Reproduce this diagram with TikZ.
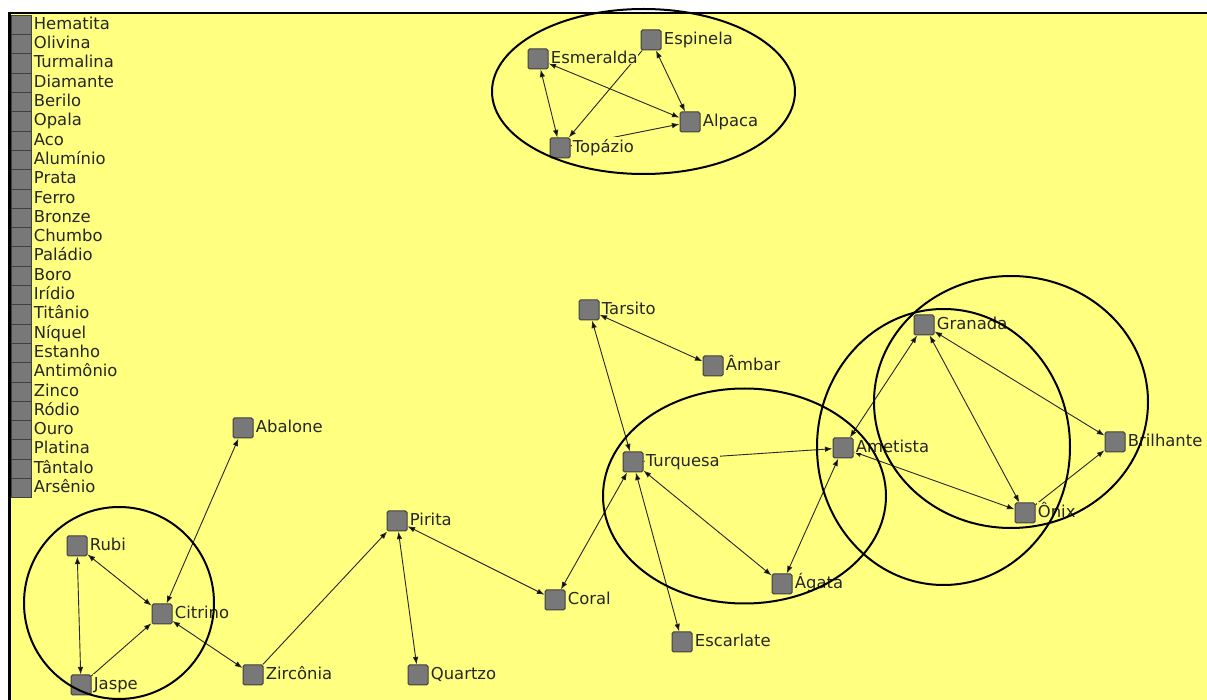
\documentclass[tikz,border=0pt]{standalone}
\usepackage{fontspec}
\setmainfont{DejaVu Sans}
\usetikzlibrary{arrows.meta}
\pgfdeclarelayer{bg}
\pgfdeclarelayer{edges}
\pgfsetlayers{bg,edges,main}
\definecolor{paper}{RGB}{255,255,128}
\definecolor{boxgray}{RGB}{120,120,120}
\tikzset{
  gem/.style={draw=black!75, fill=boxgray, rounded corners=0.8pt, minimum size=10pt, inner sep=0pt, line width=0.5pt},
  key/.style={draw=black!75, fill=boxgray, minimum width=10pt, minimum height=9.65pt, inner sep=0pt, line width=0.5pt},
  gemname/.style={fill=paper, inner sep=0.3pt, label distance=0.7pt, yshift=1.5pt, text height=0.74em, text depth=0pt, font=\fontsize{8.2}{10}\selectfont, text=black!85},
  ring/.style={draw, line width=1pt},
}

\begin{document}
\begin{tikzpicture}[x=0.5pt, y=-0.5pt, ->, >={Latex[length=3.8pt,width=2.8pt]}, link/.style={line width=0.45pt, draw=black!85}]
\useasboundingbox (0,0) rectangle (1207,700);
\begin{pgfonlayer}{bg}
\fill[white] (0,0) rectangle (1207,700);
\fill[paper] (9.5,13) rectangle (1207,700);
\draw[-, line width=1.2pt] (9.5,700) |- (1207,13);
\end{pgfonlayer}

\foreach \w [count=\i from 0] in {Hematita, Olivina, Turmalina, Diamante, Berilo, Opala, Aco, Alumínio, Prata, Ferro, Bronze, Chumbo, Paládio, Boro, Irídio, Titânio, Níquel, Estanho, Antimônio, Zinco, Ródio, Ouro, Platina, Tântalo, Arsênio}
  \node[key, label={[gemname]right:\w}] (k\i) at (21,{25+19.3*\i}) {};

\node[gem, label={[gemname]right:Esmeralda}] (esmeralda) at (538,59) {};
\node[gem, label={[gemname]right:Espinela}] (espinela) at (651,40) {};
\node[gem, label={[gemname]right:Alpaca}] (alpaca) at (690,122) {};
\node[gem, label={[gemname]right:Topázio}] (topazio) at (560,148) {};
\node[gem, label={[gemname]right:Tarsito}] (tarsito) at (589,310) {};
\node[gem, label={[gemname]right:Âmbar}] (ambar) at (713,366) {};
\node[gem, label={[gemname]right:Turquesa}] (turquesa) at (633,462) {};
\node[gem, label={[gemname]right:Ametista}] (ametista) at (843,448) {};
\node[gem, label={[gemname]right:Granada}] (granada) at (924,325) {};
\node[gem, label={[gemname]right:Brilhante}] (brilhante) at (1115,442) {};
\node[gem, label={[gemname]right:Ônix}] (onix) at (1025,513) {};
\node[gem, label={[gemname]right:Ágata}] (agata) at (782,584) {};
\node[gem, label={[gemname]right:Escarlate}] (escarlate) at (682,642) {};
\node[gem, label={[gemname]right:Coral}] (coral) at (555,600) {};
\node[gem, label={[gemname]right:Pirita}] (pirita) at (397,521) {};
\node[gem, label={[gemname]right:Quartzo}] (quartzo) at (418,675) {};
\node[gem, label={[gemname]right:Abalone}] (abalone) at (243,428) {};
\node[gem, label={[gemname]right:Citrino}] (citrino) at (162,614) {};
\node[gem, label={[gemname]right:Rubi}] (rubi) at (77,546) {};
\node[gem, label={[gemname]right:Jaspe}] (jaspe) at (81,685) {};
\node[gem, label={[gemname]right:Zircônia}] (zirconia) at (253,675) {};

\begin{pgfonlayer}{edges}
\path[link] (esmeralda) edge[<->] (topazio);
\path[link] (esmeralda) edge[<->] (alpaca);
\path[link] (espinela) edge[<->] (alpaca);
\path[link] (espinela) edge (topazio);
\path[link] (topazio) edge (alpaca);
\path[link] (tarsito) edge[<->] (ambar);
\path[link] (tarsito) edge[<->] (turquesa);
\path[link] (turquesa) edge (ametista);
\path[link] (turquesa) edge[<->] (agata);
\path[link] (turquesa) edge[<->] (coral);
\path[link] (turquesa) edge[<->] (escarlate);
\path[link] (ametista) edge[<->] (agata);
\path[link] (ametista) edge[<->] (granada);
\path[link] (ametista) edge[<->] (onix);
\path[link] (granada) edge[<->] (onix);
\path[link] (granada) edge[<->] (brilhante);
\path[link] (onix) edge (brilhante);
\path[link] (pirita) edge[<->] (coral);
\path[link] (pirita) edge[<->] (quartzo);
\path[link] (zirconia) edge (pirita);
\path[link] (citrino) edge[<->] (zirconia);
\path[link] (abalone) edge[<->] (citrino);
\path[link] (rubi) edge[<->] (citrino);
\path[link] (rubi) edge[<->] (jaspe);
\path[link] (jaspe) edge (citrino);
\end{pgfonlayer}

\draw[ring, -] (643.5,91.5) ellipse [x radius=75.75pt, y radius=41.25pt];
\draw[ring, -] (119,603) ellipse [x radius=47.5pt, y radius=48pt];
\draw[ring, -] (744.5,496) ellipse [x radius=70.75pt, y radius=53.75pt];
\draw[ring, -] (943.5,447) ellipse [x radius=63.25pt, y radius=69pt];
\draw[ring, -] (1011,402) ellipse [x radius=68.5pt, y radius=63pt];
\end{tikzpicture}
\end{document}
